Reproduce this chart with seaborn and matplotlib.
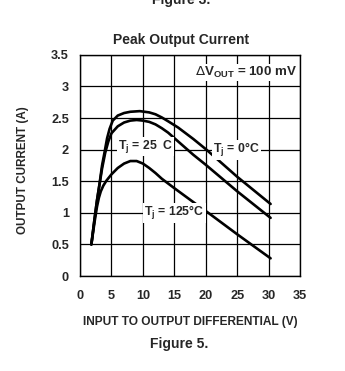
import matplotlib
matplotlib.use("Agg")
import matplotlib.pyplot as plt
import seaborn as sns
import pandas as pd

# ---- data ----
vin_0c = [1.8, 2.3, 2.7, 3.1, 3.5, 3.9, 4.3, 4.7, 5.2, 6, 7, 8, 9.5, 11, 12, 13, 14, 15.6, 18, 20.1, 25, 30.3]
iout_0c = [0.5, 0.9, 1.2, 1.46, 1.75, 1.96, 2.18, 2.33, 2.46, 2.54, 2.58, 2.60, 2.61, 2.59, 2.56, 2.51, 2.45, 2.35, 2.17, 2.0, 1.57, 1.14]

vin_25c = [1.8, 2.3, 2.7, 3.1, 3.5, 4, 4.5, 5, 6, 7, 8, 9, 10, 11, 12, 13, 14, 15.6, 18, 20, 25, 30.3]
iout_25c = [0.5, 0.9, 1.2, 1.45, 1.7, 1.95, 2.13, 2.26, 2.37, 2.43, 2.46, 2.47, 2.46, 2.44, 2.40, 2.34, 2.27, 2.13, 1.92, 1.76, 1.34, 0.92]

vin_125c = [1.8, 2.3, 2.7, 3.0, 3.3, 3.7, 4.2, 5, 6, 7, 8, 9, 10, 11, 12, 13, 15, 18.7, 20.4, 25, 30.3]
iout_125c = [0.5, 0.85, 1.1, 1.24, 1.34, 1.43, 1.51, 1.61, 1.71, 1.78, 1.82, 1.82, 1.78, 1.71, 1.63, 1.54, 1.39, 1.12, 1.0, 0.66, 0.28]

x_ticks = [0, 5, 10, 15, 20, 25, 30, 35]
y_ticks = [0, 0.5, 1, 1.5, 2, 2.5, 3, 3.5]
y_tick_labels = ["0", "0.5", "1", "1.5", "2", "2.5", "3", "3.5"]

df = pd.concat([
    pd.DataFrame({"vin": vin_0c, "iout": iout_0c, "curve": "0C"}),
    pd.DataFrame({"vin": vin_25c, "iout": iout_25c, "curve": "25C"}),
    pd.DataFrame({"vin": vin_125c, "iout": iout_125c, "curve": "125C"}),
])

sns.set_style("white")
fam = ["Liberation Sans", "DejaVu Sans"]
plt.rcParams["font.family"] = fam

fig = plt.figure(figsize=(3.45, 3.71), dpi=100)
ax = fig.add_axes([0.232, 0.256, 0.638, 0.596])

sns.lineplot(data=df, x="vin", y="iout", units="curve", estimator=None, sort=False,
             color="black", lw=1.9, ax=ax, legend=False)

ax.set_xlim(0, 35)
ax.set_ylim(0, 3.5)
ax.set_xticks(x_ticks)
ax.set_yticks(y_ticks)
ax.set_xticklabels([str(t) for t in x_ticks], fontsize=9.2, fontweight="bold")
ax.set_yticklabels(y_tick_labels, fontsize=9.2, fontweight="bold")
ax.tick_params(axis="x", length=0, pad=10)
ax.tick_params(axis="y", length=0, pad=8)
ax.grid(True, color="black", lw=0.9)
ax.set_axisbelow(True)
for s in ax.spines.values():
    s.set_color("black")
    s.set_linewidth(1.0)

ax.set_xlabel("INPUT TO OUTPUT DIFFERENTIAL (V)", fontsize=8.6, fontweight="bold", labelpad=10)
ax.set_ylabel("OUTPUT CURRENT (A)", fontsize=8.4, fontweight="bold")
ax.yaxis.set_label_coords(-0.23, 0.48)

box = dict(facecolor="white", edgecolor="none", pad=0.8)
ax.text(34.6, 3.22, r"$\Delta$V$_{\mathregular{OUT}}$ = 100 mV", ha="right", va="center",
        fontsize=9.6, fontweight="bold", bbox=box)
ax.text(10.4, 2.05, r"T$_{\mathregular{j}}$ = 25  C", ha="center", va="center",
        fontsize=8.8, fontweight="bold", bbox=box)
ax.text(24.9, 2.0, r"T$_{\mathregular{j}}$ = 0°C", ha="center", va="center",
        fontsize=8.8, fontweight="bold", bbox=box)
ax.text(15.0, 1.0, r"T$_{\mathregular{j}}$ = 125°C", ha="center", va="center",
        fontsize=8.8, fontweight="bold", bbox=box)

fig.text(0.525, 0.892, "Peak Output Current", ha="center", va="center",
         fontsize=10, fontweight="bold")
fig.text(0.525, 1 - 7 / 371, "Figure 3.", ha="center", va="bottom",
         fontsize=10, fontweight="bold")
fig.text(0.52, 1 - 344 / 371, "Figure 5.", ha="center", va="center",
         fontsize=10, fontweight="bold")

fig.savefig("out.png", dpi=100, facecolor="white")
